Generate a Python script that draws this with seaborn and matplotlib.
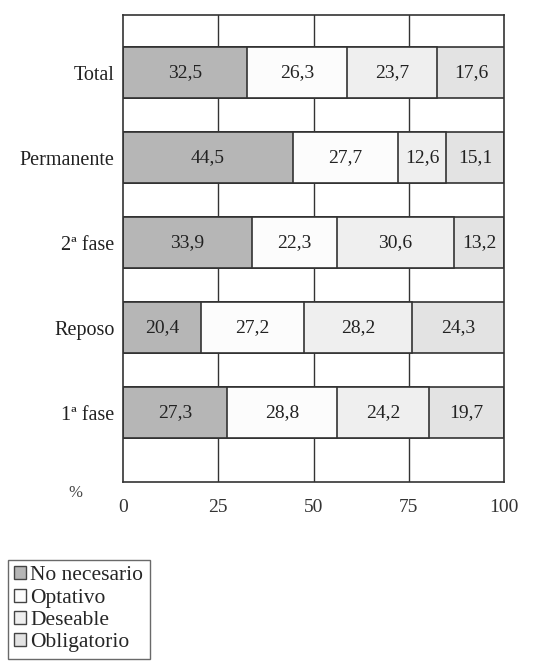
import numpy as np
import pandas as pd
import matplotlib.pyplot as plt
import seaborn as sns
from matplotlib.patches import Patch

categorias = ["Total", "Permanente", "2ª fase", "Reposo", "1ª fase"]
no_necesario = [32.5, 44.5, 33.9, 20.4, 27.3]
optativo = [26.3, 27.7, 22.3, 27.2, 28.8]
deseable = [23.7, 12.6, 30.6, 28.2, 24.2]
obligatorio = [17.6, 15.1, 13.2, 24.3, 19.7]

series = ["No necesario", "Optativo", "Deseable", "Obligatorio"]
colores = ["#b6b6b6", "#fcfcfc", "#efefef", "#e3e3e3"]

df = pd.DataFrame({
    "categoria": categorias,
    "No necesario": no_necesario,
    "Optativo": optativo,
    "Deseable": deseable,
    "Obligatorio": obligatorio,
})
acum = df[series].cumsum(axis=1)
acum["categoria"] = df["categoria"]

sns.set_style("white")
plt.rcParams["font.family"] = ["Liberation Serif", "DejaVu Serif"]

fig = plt.figure(figsize=(5.54, 6.68), dpi=100)
ax = fig.add_axes([0.222, 0.278, 0.688, 0.700])

# rejilla vertical detras de las barras
for xv in [25, 50, 75]:
    ax.axvline(xv, color="#333333", lw=1.0, zorder=0)

# barras apiladas: se dibujan los acumulados de atras hacia adelante
for serie, color in reversed(list(zip(series, colores))):
    sns.barplot(data=acum, x=serie, y="categoria", orient="h", color=color,
                edgecolor="#333333", linewidth=1.2, width=0.6, saturation=1,
                ax=ax, zorder=2)

# etiquetas de valores
for i, cat in enumerate(categorias):
    izq = 0
    for serie in series:
        v = df.loc[i, serie]
        ax.text(izq + v / 2, i, f"{v:.1f}".replace(".", ","), ha="center", va="center",
                fontsize=14, color="#222222", zorder=3)
        izq += v

ax.set_xlim(0, 100)
ax.set_ylim(4.82, -0.68)
ax.set_xticks([0, 25, 50, 75, 100])
ax.set_xticklabels(["0", "25", "50", "75", "100"], fontsize=14, color="#333333")
ax.set_yticks(range(len(categorias)))
ax.set_yticklabels(categorias, fontsize=14.5, color="#222222")
ax.set_yticks([-0.68, 0.5, 1.5, 2.5, 3.5, 4.82], minor=True)
ax.tick_params(axis="y", which="major", length=0, pad=6)
ax.tick_params(axis="y", which="minor", length=8, width=1.0, color="#333333", direction="out")
ax.tick_params(axis="x", length=6, width=1.0, color="#333333", direction="out", pad=6)
ax.set_xlabel("")
ax.set_ylabel("")
for s in ax.spines.values():
    s.set_color("#333333")
    s.set_linewidth(1.2)

fig.text(0.123, 0.262, "%", fontsize=12, color="#444444", ha="left", va="center")

handles = [Patch(facecolor=c, edgecolor="#444444", label=s) for s, c in zip(series, colores)]
leg = fig.legend(handles=handles, loc="upper left", bbox_to_anchor=(0.014, 0.162),
                 frameon=True, fancybox=False, fontsize=15.5, handlelength=0.55,
                 handleheight=0.55, handletextpad=0.2, labelspacing=0.15,
                 borderpad=0.3, borderaxespad=0)
leg.get_frame().set_edgecolor("#444444")
leg.get_frame().set_linewidth(1.0)

fig.savefig("out.png", dpi=100)
